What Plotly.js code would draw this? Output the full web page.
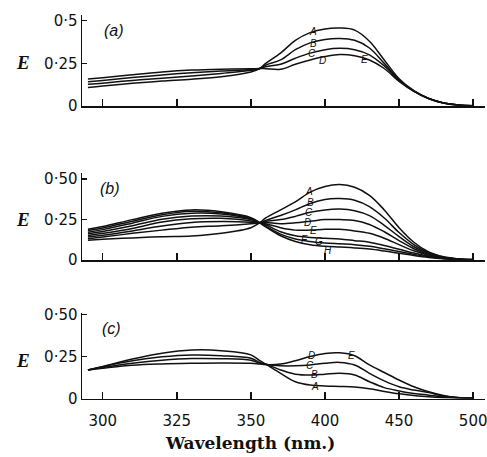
<!DOCTYPE html>
<html><head><meta charset="utf-8">
<script src="https://cdn.plot.ly/plotly-3.0.1.min.js"></script>
<style>html,body{margin:0;padding:0;background:#fff;}#chart{width:487px;height:457px;}</style>
</head><body><div id="chart"></div>
<script>
// Wavelengths (nm)
const nm = [295,300,310,320,330,340,350,356,360,370,380,390,400,410,420,430,440,450,460,470,480,490,500];
// Tick labels of the wavelength axis (scale changes at 350 nm)
const tickNm = [300,325,350,400,450,500];
const tickText = ['300','325','350','400','450','500'];

// Panel (a)
const aNames = ['A','B','C','D'];
const aA = [.109,.118,.133,.146,.157,.172,.200,.220,.250,.310,.385,.430,.452,.457,.445,.380,.270,.160,.090,.045,.018,.006,.002];
const aB = [.127,.134,.150,.163,.176,.191,.209,.220,.240,.270,.330,.370,.390,.396,.385,.340,.250,.155,.088,.044,.018,.006,.002];
const aC = [.142,.150,.167,.182,.195,.205,.214,.220,.230,.245,.280,.310,.330,.338,.330,.300,.235,.150,.087,.044,.018,.006,.002];
const aD = [.158,.166,.184,.200,.211,.216,.218,.220,.219,.215,.245,.270,.290,.302,.295,.270,.220,.145,.086,.043,.018,.006,.002];

// Panel (b)
const bNames = ['A','B','C','D','E','F','G','H'];
const bA = [.123,.128,.137,.144,.148,.165,.200,.230,.260,.310,.360,.420,.455,.467,.450,.400,.310,.200,.110,.050,.020,.007,.003];
const bB = [.132,.142,.165,.185,.203,.212,.225,.230,.245,.275,.310,.350,.375,.380,.370,.330,.260,.170,.095,.045,.018,.006,.003];
const bC = [.142,.153,.180,.210,.232,.238,.234,.230,.240,.250,.270,.295,.310,.315,.305,.275,.215,.145,.082,.040,.016,.006,.003];
const bD = [.152,.165,.195,.235,.255,.258,.242,.230,.232,.225,.230,.240,.250,.250,.245,.220,.175,.120,.070,.035,.014,.005,.002];
const bE = [.162,.177,.212,.252,.272,.272,.250,.230,.225,.200,.185,.185,.190,.190,.180,.165,.135,.095,.057,.030,.012,.005,.002];
const bF = [.172,.188,.228,.270,.290,.285,.255,.230,.218,.175,.150,.140,.135,.130,.120,.110,.090,.067,.043,.024,.010,.004,.002];
const bG = [.182,.198,.240,.280,.302,.292,.258,.230,.210,.160,.130,.115,.105,.100,.095,.085,.070,.053,.035,.020,.009,.004,.002];
const bH = [.190,.207,.250,.290,.310,.298,.262,.230,.205,.150,.115,.095,.085,.080,.075,.068,.056,.042,.028,.016,.008,.004,.002];

// Panel (c)
const cNames = ['A','B','C','D'];
const cA = [.170,.190,.235,.270,.289,.285,.260,.225,.205,.150,.100,.080,.075,.072,.068,.058,.042,.028,.018,.010,.005,.002,.001];
const cB = [.170,.190,.225,.248,.259,.255,.240,.215,.205,.170,.145,.140,.145,.150,.140,.100,.065,.045,.030,.020,.010,.004,.002];
const cC = [.170,.185,.210,.228,.238,.237,.228,.210,.203,.195,.195,.200,.210,.215,.200,.150,.105,.070,.050,.035,.015,.005,.002];
const cD = [.170,.180,.198,.206,.210,.212,.210,.205,.202,.205,.225,.250,.268,.272,.255,.200,.155,.110,.070,.040,.018,.006,.002];

// Curve letters: [letter, nm, E]
const aLabels = [['A',392,.435],['B',392,.367],['C',391,.306],['D',398,.268],['E',427,.270]];
const bLabels = [['A',389,.422],['B',390,.353],['C',389,.293],['D',388,.232],['E',392,.185],['F',386,.130],['G',396,.115],['H',402,.062]];
const cLabels = [['D',391,.259],['C',390,.199],['B',393,.140],['A',393,.074],['E',418,.259]];

// piecewise wavelength scale of the original figure
function pos(w){ return w <= 350 ? (w-300)/25 : 2 + (w-350)/50; }
const xs = nm.map(pos);

const traces = [];
function addPanel(series, xa, ya){
  series.forEach(s => traces.push({x: xs, y: s, xaxis: xa, yaxis: ya, type:'scatter', mode:'lines',
    line:{color:'#111', width:1.5, shape:'spline', smoothing:1}, hoverinfo:'skip', showlegend:false}));
}
addPanel([aA,aB,aC,aD],'x','y');
addPanel([bA,bB,bC,bD,bE,bF,bG,bH],'x2','y2');
addPanel([cA,cB,cC,cD],'x3','y3');

const annotations = [];
function addLabels(list, xa, ya){
  list.forEach(l => annotations.push({x: pos(l[1]), y: l[2], xref: xa, yref: ya, text: '<i>'+l[0]+'</i>',
    showarrow:false, borderpad:0, font:{family:'Liberation Sans', size:10, color:'#111'}}));
}
addLabels(aLabels,'x','y'); addLabels(bLabels,'x2','y2'); addLabels(cLabels,'x3','y3');
[['(a)','x','y',0.147,0.44],['(b)','x2','y2',0.094,0.442],['(c)','x3','y3',0.12,0.418]].forEach(p =>
  annotations.push({x:p[3], y:p[4], xref:p[1], yref:p[2], text:'<i>'+p[0]+'</i>', showarrow:false,
    font:{family:'Liberation Sans', size:16, color:'#111'}}));
[0.863,0.519,0.212].forEach(yy => annotations.push({x:-0.146, y:yy, xref:'paper', yref:'paper',
  xanchor:'center', yanchor:'middle',
  text:'<b><i>E</i></b>', showarrow:false, font:{family:'Liberation Serif', size:19, color:'#111'}}));
annotations.push({x:0.417, y:0.031, xref:'paper', yref:'paper', xanchor:'center', yanchor:'middle',
  text:'<b>Wavelength (nm.)</b>', showarrow:false, font:{family:'DejaVu Serif', size:17, color:'#111'}});

const xr = [-0.28, 5.16];
function xaxis(anchor, labels){
  return {anchor: anchor, domain:[0,1], range: xr, showline:true, linecolor:'#111', linewidth:1.5,
    showgrid:false, zeroline:false, ticks:'inside', ticklen:7, tickwidth:1.5, tickcolor:'#111',
    tickmode:'array', tickvals: tickNm.map(pos), ticktext: tickText, showticklabels: labels,
    ticklabeloverflow:'allow',
    tickfont:{family:'DejaVu Sans', size:15, color:'#111'}, ticklabelstandoff:8};
}
function yaxis(anchor, dom, top, ttext){
  return {anchor: anchor, domain: dom, range:[0, top], showline:true, linecolor:'#111', linewidth:1.5,
    showgrid:false, zeroline:false, ticks:'inside', ticklen:5, tickwidth:1.5, tickcolor:'#111',
    tickmode:'array', tickvals:[0,0.25,0.5], ticktext: ttext, tickfont:{family:'DejaVu Sans', size:15, color:'#111'}};
}
const layout = {
  width:487, height:457, margin:{l:82, r:2, t:0, b:0}, paper_bgcolor:'#fff', plot_bgcolor:'#fff',
  showlegend:false, annotations: annotations,
  xaxis: xaxis('y', false), xaxis2: xaxis('y2', false), xaxis3: xaxis('y3', true),
  yaxis: yaxis('x', [0.768, 0.967], 0.533, ['0','0·25','0·5']),
  yaxis2: yaxis('x2', [0.431, 0.621], 0.537, ['0','0·25','0·50']),
  yaxis3: yaxis('x3', [0.128, 0.315], 0.509, ['0','0·25','0·50'])
};
Plotly.newPlot('chart', traces, layout, {staticPlot:true});
</script></body></html>
